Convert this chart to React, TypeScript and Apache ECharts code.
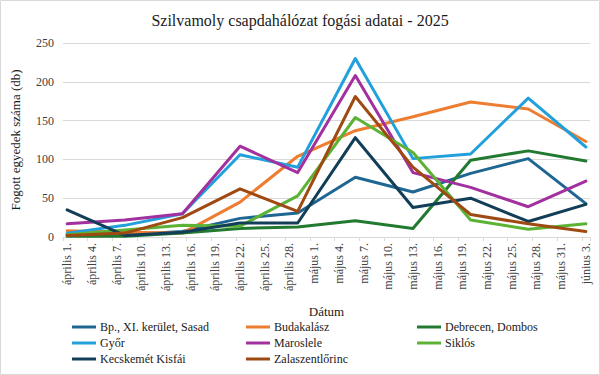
import React, { useEffect, useRef } from "react";
import * as echarts from "echarts";

const title = "Szilvamoly csapdahálózat fogási adatai - 2025";
const yAxisName = "Fogott egyedek száma (db)";
const xAxisName = "Dátum";

const axisStart = "2025-04-01";
const sampleDates = [
  "2025-04-01", "2025-04-08", "2025-04-15", "2025-04-22", "2025-04-29",
  "2025-05-06", "2025-05-13", "2025-05-20", "2025-05-27", "2025-06-03",
];

const tickLabels = [
  "április 1.", "április 4.", "április 7.", "április 10.", "április 13.",
  "április 16.", "április 19.", "április 22.", "április 25.", "április 28.",
  "május 1.", "május 4.", "május 7.", "május 10.", "május 13.", "május 16.",
  "május 19.", "május 22.", "május 25.", "május 28.", "május 31.", "június 3.",
];

const seriesNames = [
  "Bp., XI. kerület, Sasad",
  "Budakalász",
  "Debrecen, Dombos",
  "Győr",
  "Maroslele",
  "Siklós",
  "Kecskemét Kisfái",
  "Zalaszentlőrinc",
];

const bpSasad = [3, 3, 7, 24, 31, 77, 58, 82, 101, 43];
const budakalasz = [8, 6, 5, 45, 104, 137, 155, 174, 165, 123];
const debrecen = [1, 1, 5, 11, 13, 21, 11, 99, 111, 98];
const gyor = [5, 15, 30, 106, 90, 230, 101, 107, 179, 116];
const maroslele = [17, 22, 30, 117, 83, 208, 83, 64, 39, 72];
const siklos = [3, 9, 15, 14, 53, 154, 109, 22, 10, 17];
const kecskemet = [35, 2, 6, 18, 18, 128, 38, 50, 20, 42];
const zalaszentlorinc = [2, 5, 25, 62, 33, 181, 90, 29, 17, 7];

const seriesValues = [bpSasad, budakalasz, debrecen, gyor, maroslele, siklos, kecskemet, zalaszentlorinc];

const colors = ["#1F6792", "#ED7D31", "#217A2F", "#21A0DB", "#A3309F", "#5CB235", "#123E57", "#9E4A12"];

const FONT = "Liberation Serif";

export default function App() {
  const ref = useRef<HTMLDivElement>(null);

  useEffect(() => {
    document.body.style.margin = "0";
    if (!ref.current) return;
    const chart = echarts.init(ref.current, undefined, { renderer: "svg" });
    const t0 = Date.parse(axisStart);
    const days = sampleDates.map((d) => Math.round((Date.parse(d) - t0) / 86400000));
    const labelDays = tickLabels.map((_, i) => i * 3);
    const tickDays = labelDays.map((d) => d - 0.5).concat([labelDays[labelDays.length - 1] + 0.5]);

    const legendCols = [
      [seriesNames[0], seriesNames[3], seriesNames[6]],
      [seriesNames[1], seriesNames[4], seriesNames[7]],
      [seriesNames[2], seriesNames[5]],
    ];
    const legendLefts = [72, 246, 417];

    const txt = { fontFamily: FONT, fontWeight: "normal" as const, color: "#1a1a1a" };
    const tick = { fontFamily: FONT, fontWeight: "normal" as const, color: "#404040" };

    chart.setOption({
      animation: false,
      color: colors,
      textStyle: { fontFamily: FONT, fontWeight: "normal" },
      title: {
        text: title,
        left: "center",
        top: 7,
        textStyle: { ...txt, fontSize: 16 },
      },
      graphic: [
        {
          type: "rect",
          shape: { x: 0.5, y: 0.5, width: 599, height: 374 },
          style: { fill: "none", stroke: "#d9d9d9", lineWidth: 1 },
          silent: true,
        },
      ],
      legend: legendCols.map((col, i) => ({
        data: col,
        orient: "vertical",
        left: legendLefts[i],
        top: 320,
        itemWidth: 24,
        itemHeight: 3,
        itemGap: 2,
        icon: "rect",
        textStyle: { ...txt, fontSize: 12, lineHeight: 14, padding: [0, 0, 0, -1] },
        padding: 0,
      })),
      grid: { left: 63, right: 10, top: 43, height: 194 },
      xAxis: {
        type: "value",
        min: -0.5,
        max: 63.5,
        name: xAxisName,
        nameLocation: "middle",
        nameGap: 68,
        nameTextStyle: { ...txt, fontSize: 13 },
        axisLine: { show: true, lineStyle: { color: "#d9d9d9", width: 1 } },
        axisTick: { show: true, customValues: tickDays, length: 4, lineStyle: { color: "#d9d9d9" } },
        axisLabel: {
          ...tick,
          customValues: labelDays,
          rotate: 90,
          margin: 6,
          fontSize: 12,
          formatter: (v: number) => tickLabels[Math.round(v / 3)] ?? "",
        },
        splitLine: { show: false },
      },
      yAxis: {
        type: "value",
        min: 0,
        max: 250,
        interval: 50,
        name: yAxisName,
        nameLocation: "middle",
        nameRotate: 90,
        nameGap: 41,
        nameTextStyle: { ...txt, fontSize: 13 },
        axisLine: { show: false },
        axisTick: { show: false },
        axisLabel: { ...tick, fontSize: 12, margin: 9 },
        splitLine: { lineStyle: { color: "#d9d9d9", width: 1 } },
      },
      series: seriesNames.map((name, i) => ({
        name,
        type: "line",
        data: seriesValues[i].map((v, j) => [days[j], v]),
        showSymbol: false,
        symbol: "none",
        lineStyle: { width: 3, color: colors[i], join: "round", cap: "round" },
        itemStyle: { color: colors[i] },
      })),
    });
    return () => chart.dispose();
  }, []);

  return <div ref={ref} style={{ width: 600, height: 375 }} />;
}
